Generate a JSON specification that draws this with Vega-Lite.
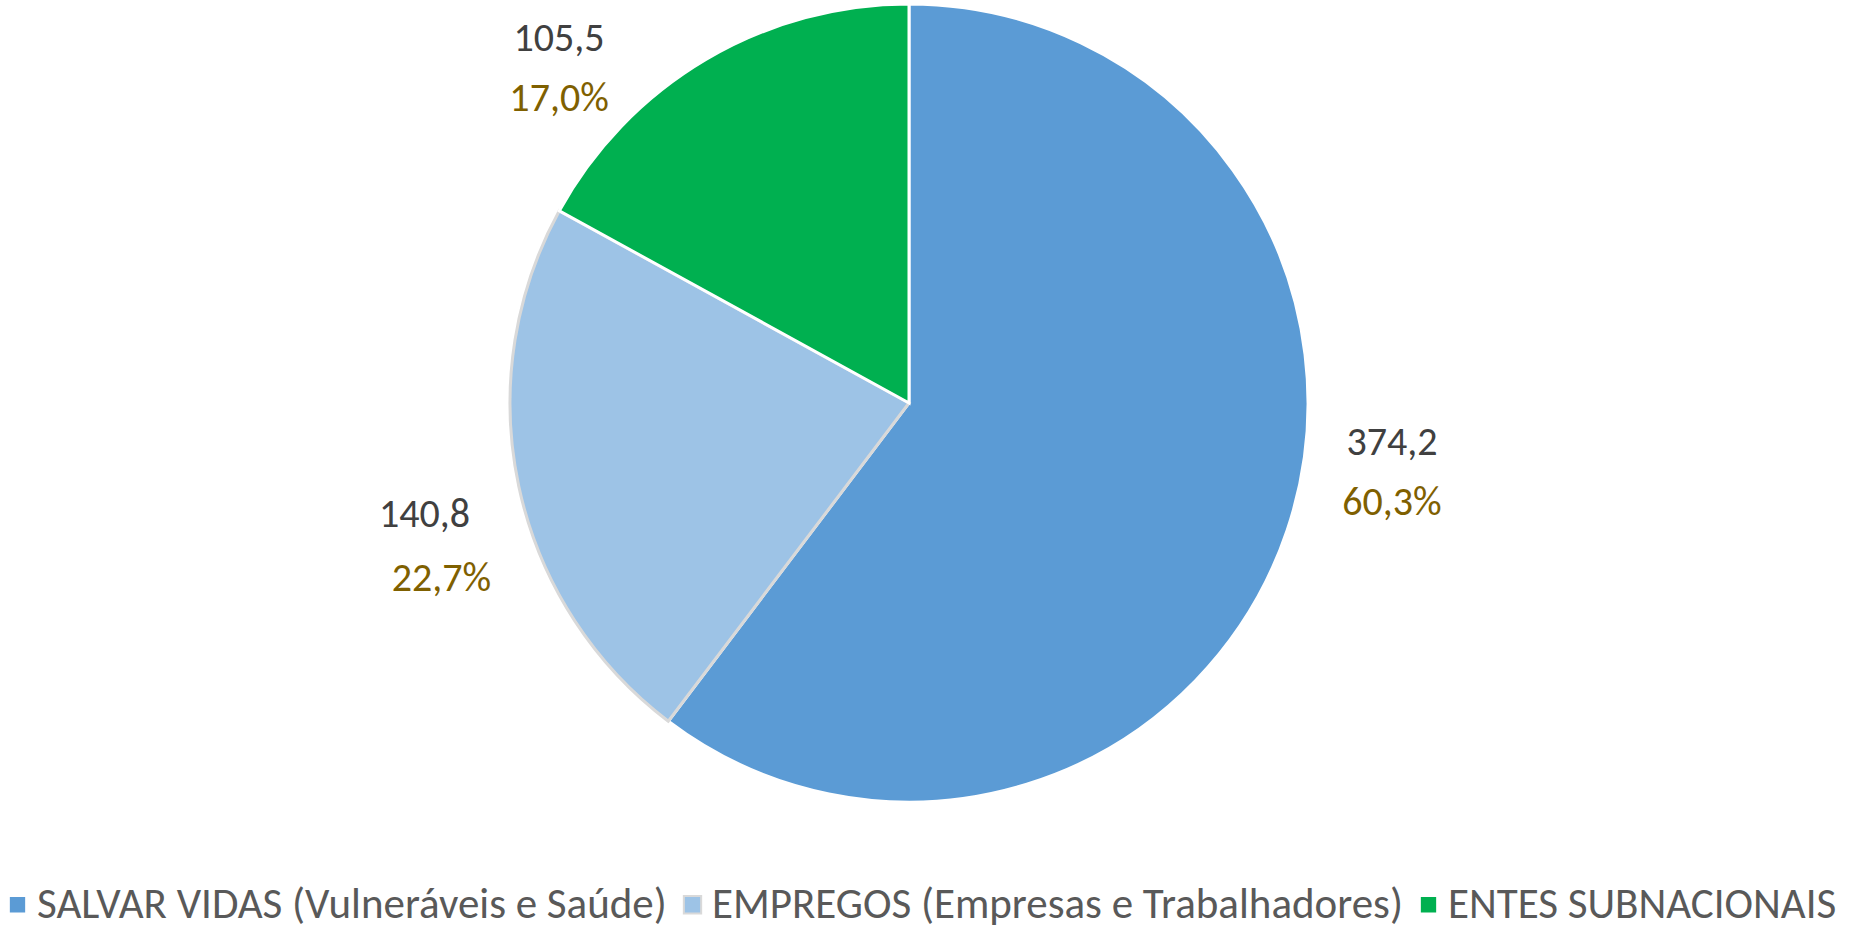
{
  "$schema": "https://vega.github.io/schema/vega-lite/v6.json",
  "autosize": "none",
  "width": 1818,
  "height": 806,
  "padding": {"left": 0, "top": 0, "right": 40, "bottom": 123},
  "background": "white",
  "config": {"view": {"stroke": null}, "font": "Carlito, 'Liberation Sans Narrow', 'DejaVu Sans Condensed', sans-serif"},
  "data": {"values": [
    {"i": 1, "category": "SALVAR VIDAS (Vulneráveis e Saúde)", "value": 374.2, "vlabel": "374,2", "plabel": "60,3%"},
    {"i": 2, "category": "EMPREGOS (Empresas e Trabalhadores)", "value": 140.8, "vlabel": "140,8", "plabel": "22,7%"},
    {"i": 3, "category": "ENTES SUBNACIONAIS", "value": 105.5, "vlabel": "105,5", "plabel": "17,0%"}
  ]},
  "encoding": {
    "theta": {"field": "value", "type": "quantitative", "stack": true},
    "order": {"field": "i", "type": "quantitative"}
  },
  "layer": [
    {
      "mark": {"type": "arc", "outerRadius": 399, "strokeWidth": 3},
      "encoding": {
        "color": {"field": "category", "type": "nominal",
          "scale": {"domain": ["SALVAR VIDAS (Vulneráveis e Saúde)", "EMPREGOS (Empresas e Trabalhadores)", "ENTES SUBNACIONAIS"], "range": ["#5B9BD5", "#9DC3E6", "#00B050"]},
          "legend": {"orient": "none", "legendX": -4, "legendY": 883, "direction": "horizontal", "title": null,
            "symbolType": "square", "symbolSize": 300, "symbolStrokeWidth": 2, "labelFontSize": 43, "labelColor": "#595959",
            "labelFont": "Carlito, 'Liberation Sans Narrow', 'DejaVu Sans Condensed', sans-serif",
            "columnPadding": 4, "symbolOffset": 0, "labelOffset": -2, "labelLimit": 0, "padding": 0}},
        "stroke": {"field": "category", "type": "nominal",
          "scale": {"domain": ["SALVAR VIDAS (Vulneráveis e Saúde)", "EMPREGOS (Empresas e Trabalhadores)", "ENTES SUBNACIONAIS"], "range": ["#FFFFFF", "#D9D9D9", "#FFFFFF"]},
          "legend": null}
      }
    },
    {
      "mark": {"type": "text", "radius": 488, "thetaOffset": -0.18, "dy": -30, "fontSize": 40, "color": "#404040"},
      "encoding": {"text": {"condition": {"test": "datum.i == 1", "field": "vlabel"}, "value": ""}}
    },
    {
      "mark": {"type": "text", "radius": 488, "thetaOffset": -0.18, "dy": 30, "fontSize": 40, "color": "#7F6000"},
      "encoding": {"text": {"condition": {"test": "datum.i == 1", "field": "plabel"}, "value": ""}}
    },
    {
      "mark": {"type": "text", "radius": 498, "thetaOffset": -0.084, "dy": -32, "dx": -8, "fontSize": 40, "color": "#404040"},
      "encoding": {"text": {"condition": {"test": "datum.i == 2", "field": "vlabel"}, "value": ""}}
    },
    {
      "mark": {"type": "text", "radius": 498, "thetaOffset": -0.084, "dy": 32, "dx": 9, "fontSize": 40, "color": "#7F6000"},
      "encoding": {"text": {"condition": {"test": "datum.i == 2", "field": "plabel"}, "value": ""}}
    },
    {
      "mark": {"type": "text", "radius": 484, "thetaOffset": -0.274, "dy": -30, "fontSize": 40, "color": "#404040"},
      "encoding": {"text": {"condition": {"test": "datum.i == 3", "field": "vlabel"}, "value": ""}}
    },
    {
      "mark": {"type": "text", "radius": 484, "thetaOffset": -0.274, "dy": 30, "fontSize": 40, "color": "#7F6000"},
      "encoding": {"text": {"condition": {"test": "datum.i == 3", "field": "plabel"}, "value": ""}}
    }
  ]
}
